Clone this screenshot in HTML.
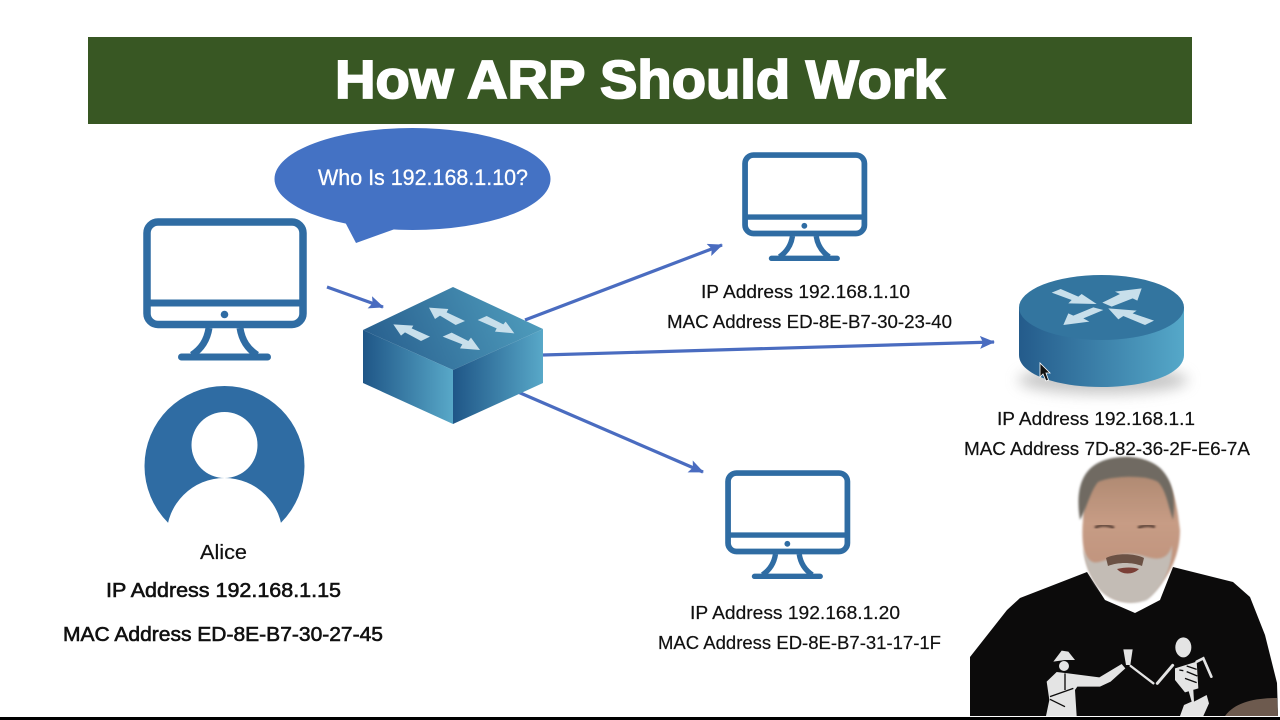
<!DOCTYPE html>
<html><head><meta charset="utf-8"><style>
html,body{margin:0;padding:0;background:#fff;width:1280px;height:720px;overflow:hidden}
svg{display:block}
text{font-family:"Liberation Sans",sans-serif;fill:#111}
</style></head><body>
<svg width="1280" height="720" viewBox="0 0 1280 720" xmlns="http://www.w3.org/2000/svg">
<defs>
<linearGradient id="g1" x1="0" x2="1" y1="0" y2="0"><stop offset="0" stop-color="#1f5687"/><stop offset="1" stop-color="#58a8c8"/></linearGradient>
<linearGradient id="g2" x1="0" x2="1" y1="0.6" y2="0.4"><stop offset="0" stop-color="#285f8e"/><stop offset="1" stop-color="#4f9dbd"/></linearGradient>
<linearGradient id="g3" x1="0" x2="1" y1="0" y2="0"><stop offset="0" stop-color="#245b8b"/><stop offset="1" stop-color="#55a8c9"/></linearGradient>
<linearGradient id="skin" x1="0" x2="0" y1="0" y2="1"><stop offset="0" stop-color="#a8846c"/><stop offset=".45" stop-color="#c79c85"/><stop offset="1" stop-color="#bb8e78"/></linearGradient>
<filter id="b1"><feGaussianBlur stdDeviation="1"/></filter>
<filter id="b4" x="-40%" y="-120%" width="180%" height="340%"><feGaussianBlur stdDeviation="7"/></filter>
<marker id="ah" markerWidth="16" markerHeight="14" refX="14" refY="6.500" orient="auto" markerUnits="userSpaceOnUse"><path d="M0 0L15 6.500L0 13L3 6.500Z" fill="#4a6cc0"/></marker>
<g id="mon" fill="none" stroke="#2f6ca3">
<rect x="147" y="222" width="156" height="102.500" rx="11" stroke-width="7.500"/>
<path d="M146 303H304" stroke-width="7"/>
<path d="M209 328C207 341 201 349 192 355M240 328C242 341 248 349 257 355" stroke-width="7"/>
<path d="M181.500 357H267.500" stroke-width="7" stroke-linecap="round"/>
<circle cx="224.500" cy="314.500" r="3.800" fill="#2f6ca3" stroke="none"/>
</g>
</defs>
<rect width="1280" height="720" fill="#fff"/>

<!-- title -->
<rect x="88" y="37" width="1104" height="87" fill="#385723"/>
<text x="335" y="98" font-size="54" font-weight="700" textLength="610" lengthAdjust="spacingAndGlyphs" style="fill:#fff;stroke:#fff;stroke-width:1.800">How ARP Should Work</text>

<!-- bubble -->
<path d="M345 222L356 243L395 229Z" fill="#4472c4"/>
<ellipse cx="412.500" cy="179" rx="138" ry="51" fill="#4472c4"/>
<text x="318" y="185" font-size="22" textLength="210" lengthAdjust="spacingAndGlyphs" style="fill:#fff;stroke:#fff;stroke-width:.3">Who Is 192.168.1.10?</text>

<!-- monitors -->
<use href="#mon"/>
<use href="#mon" transform="translate(742 152) scale(.765) translate(-143 -218)"/>
<use href="#mon" transform="translate(725 470) scale(.765) translate(-143 -218)"/>

<!-- person -->
<circle cx="224.500" cy="466" r="80" fill="#2f6ca3"/>
<circle cx="224.500" cy="445" r="33" fill="#fff"/>
<circle cx="224.500" cy="536" r="58" fill="#fff"/>

<!-- connectors -->
<g stroke="#4a6cc0" stroke-width="3.200" fill="none" marker-end="url(#ah)">
<path d="M327 287L383 307"/>
<path d="M525 320L722 245"/>
<path d="M543 355L994 342"/>
<path d="M518 392L703 472"/>
</g>

<!-- switch -->
<polygon points="453,287 543,329 453,370 363,330" fill="url(#g2)"/>
<polygon points="363,330 453,370 453,424 363,383" fill="url(#g1)"/>
<polygon points="453,370 543,329 543,383 453,424" fill="url(#g1)"/>
<g transform="translate(385 295) scale(.33333)" fill="#c8dfeb">
<polygon points="25,88 85,92 80,100 135,125 108,138 60,112 48,122"/>
<polygon points="132,38 190,42 185,52 240,78 212,90 165,62 150,72"/>
<polygon points="278,75 305,63 355,88 362,80 388,115 330,110 335,100"/>
<polygon points="173,125 200,113 250,138 258,128 285,165 225,160 232,148"/>
</g>

<!-- router -->
<ellipse cx="1103" cy="380" rx="85" ry="14" fill="#999" opacity=".55" filter="url(#b4)"/>
<path d="M1019 307V355C1019 374 1056 387 1101.500 387C1147 387 1184 374 1184 355V307Z" fill="url(#g3)"/>
<ellipse cx="1101.500" cy="307.500" rx="82.500" ry="32.500" fill="#33759f"/>
<g transform="translate(1040 280) scale(.33333)" fill="#c8dfeb">
<polygon points="35,38 62,27 115,50 125,42 170,72 85,70 95,60"/>
<polygon points="305,25 292,62 278,55 215,80 187,68 240,42 225,35"/>
<polygon points="70,135 85,100 100,107 160,82 190,90 130,115 148,125"/>
<polygon points="205,85 290,92 278,100 342,122 315,135 250,108 235,118"/>
</g>
<path d="M1040 363V377L1043 374L1046 381L1048.500 380L1046 373H1050Z" fill="#111" stroke="#fff" stroke-width=".8"/>

<!-- labels -->
<g font-size="18" style="stroke:#111;stroke-width:.2">
<text x="701" y="298" textLength="209" lengthAdjust="spacingAndGlyphs">IP Address 192.168.1.10</text>
<text x="667" y="328" textLength="285" lengthAdjust="spacingAndGlyphs">MAC Address ED-8E-B7-30-23-40</text>
<text x="997" y="425" textLength="198" lengthAdjust="spacingAndGlyphs">IP Address 192.168.1.1</text>
<text x="964" y="455" textLength="286" lengthAdjust="spacingAndGlyphs">MAC Address 7D-82-36-2F-E6-7A</text>
<text x="690" y="619" textLength="210" lengthAdjust="spacingAndGlyphs">IP Address 192.168.1.20</text>
<text x="658" y="649" textLength="283" lengthAdjust="spacingAndGlyphs">MAC Address ED-8E-B7-31-17-1F</text>
</g>
<text x="200" y="559" font-size="20" textLength="47" lengthAdjust="spacingAndGlyphs" style="stroke:#111;stroke-width:.2">Alice</text>
<g font-size="20" style="stroke:#111;stroke-width:.6">
<text x="106" y="597" textLength="235" lengthAdjust="spacingAndGlyphs">IP Address 192.168.1.15</text>
<text x="63" y="641" textLength="320" lengthAdjust="spacingAndGlyphs">MAC Address ED-8E-B7-30-27-45</text>
</g>

<!-- presenter (illustrated approximation) -->
<g>
<path d="M970 657L1007 610L1020 598L1087 572L1105 600L1135 613L1160 600L1173 567L1233 582L1250 597L1265 635L1277 683L1278 716H970Z" fill="#0c0b0b"/>
<path d="M1083 520C1083 500 1086 480 1098 468C1112 457 1140 455 1157 468C1170 480 1175 495 1178 515L1180 530C1180 552 1172 575 1150 595C1135 605 1115 603 1102 590C1088 575 1080 550 1083 520Z" fill="url(#skin)" filter="url(#b1)"/>
<path d="M1083 548C1090 568 1098 562 1106 560C1120 552 1135 553 1147 557C1158 560 1168 560 1172 545C1173 570 1160 590 1147 600C1132 606 1112 603 1100 590C1090 578 1085 565 1083 548Z" fill="#c3bcb5" filter="url(#b1)"/>
<path d="M1080 520C1075 490 1082 470 1100 462C1118 454 1145 455 1160 468C1172 480 1176 495 1173 520C1168 505 1166 490 1158 482C1145 474 1110 476 1098 482C1090 492 1088 505 1080 520Z" fill="#6f6a62" filter="url(#b1)"/>
<path d="M1106 558C1115 553 1135 553 1144 558L1142 566C1132 562 1118 562 1108 566Z" fill="#6b5144"/>
<path d="M1117 569C1125 567 1133 567 1139 569C1133 575 1122 575 1117 569Z" fill="#7a3f36"/>
<path d="M1095 528C1101 524 1108 525 1114 528M1138 528C1144 525 1150 525 1155 527" stroke="#5b4238" stroke-width="3" fill="none" filter="url(#b1)"/>
<g transform="translate(1040 640) scale(.33333)">
<g fill="#e4e4e4">
<path d="M40 65L65 32L85 35L105 60L75 60Z"/>
<circle cx="72" cy="78" r="15"/>
<path d="M20 125L50 96L85 100L178 112L245 72L256 85L212 125L180 140L112 140L105 150L110 228H18L28 180Z"/>
<path d="M250 28H278L271 75H258Z"/>
<ellipse cx="430" cy="22" rx="24" ry="30"/>
<path d="M405 85L470 65L475 145L435 157L405 120Z"/>
<path d="M445 150L460 150L462 185L500 165L507 190L490 228H420L432 195L455 185Z"/>
</g>
<g stroke="#e4e4e4" fill="none" stroke-linecap="round">
<path d="M272 78L340 130" stroke-width="7"/>
<path d="M352 130L398 76" stroke-width="9"/>
<path d="M470 65L490 55L514 110" stroke-width="8"/>
</g>
<g stroke="#0c0b0b" stroke-width="4" fill="none">
<path d="M440 78L470 88M440 95L472 108M435 115L470 128M418 90L430 92M75 100V150"/>
<path d="M30 170L100 145M30 178L75 200"/>
</g>
</g>
<path d="M1225 716C1235 702 1255 698 1277 698L1278 716Z" fill="#6d5a4e"/>
</g>
<rect x="0" y="717" width="1280" height="3" fill="#000"/>
</svg>
</body></html>
